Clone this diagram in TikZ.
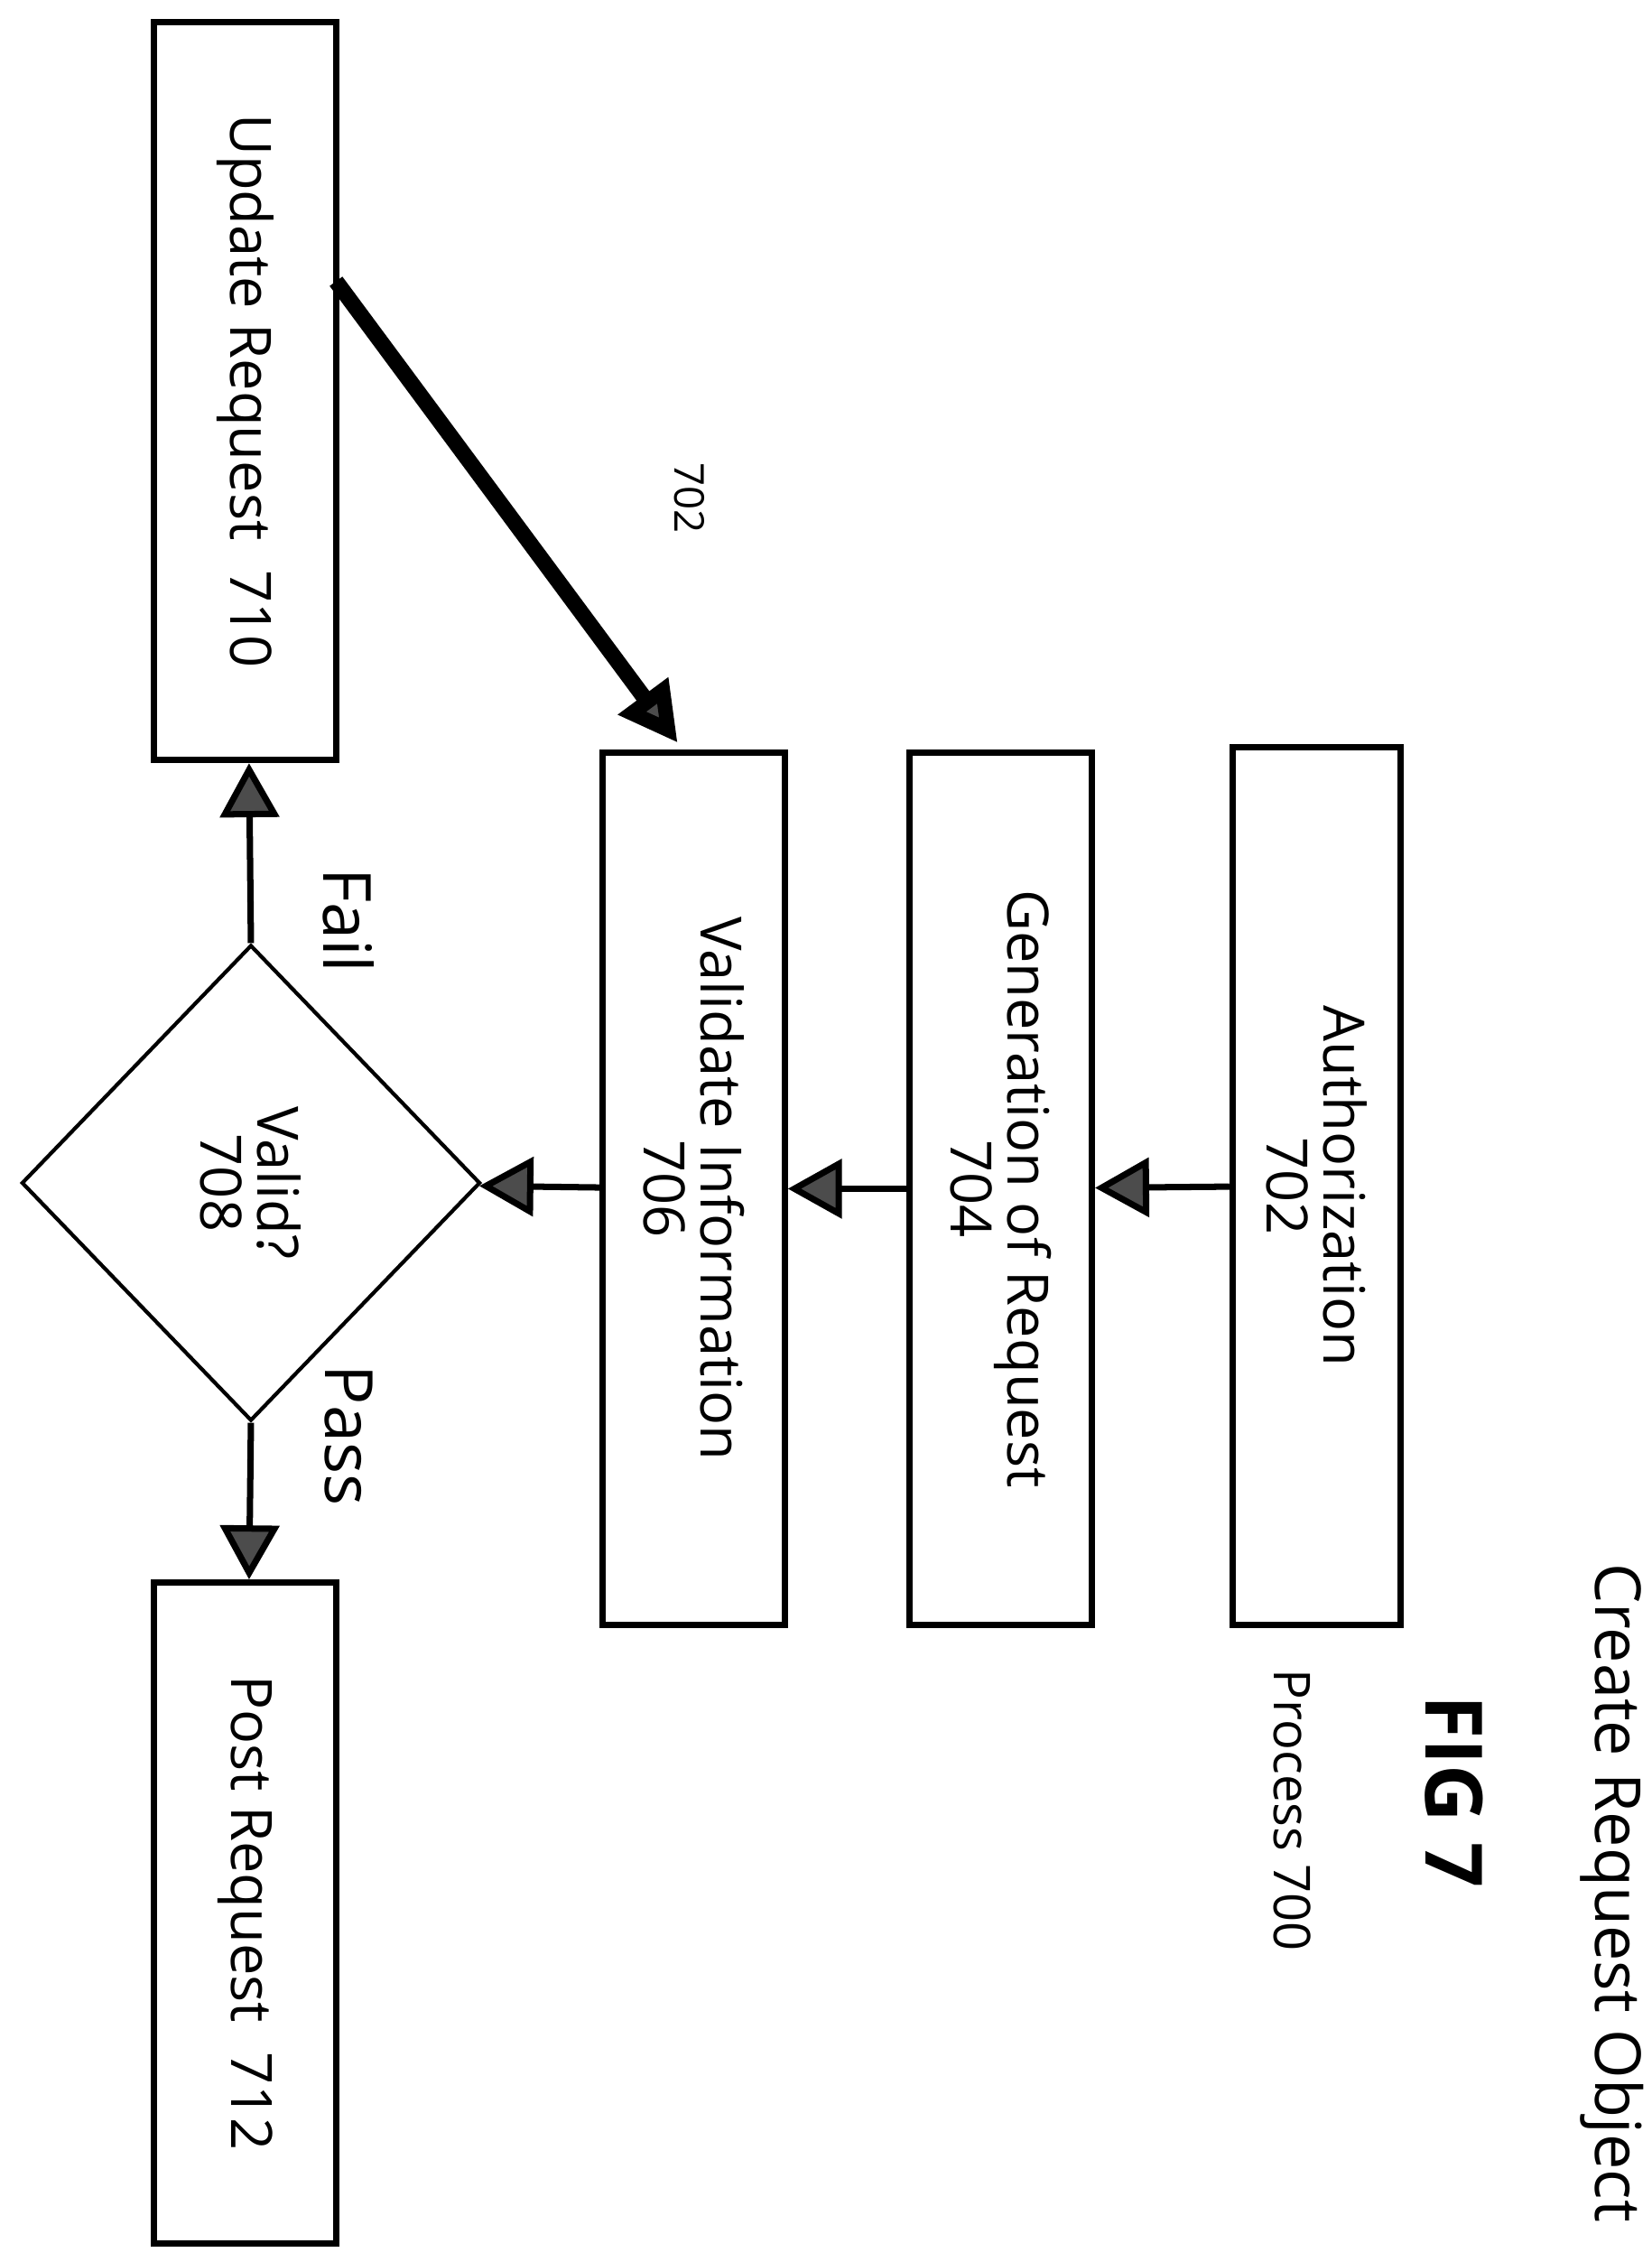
\documentclass[tikz,border=0pt]{standalone}
\usepackage{fontspec}
\setmainfont{Open Sans}
\usetikzlibrary{shapes.geometric,arrows.meta}
\begin{document}
\begin{tikzpicture}[
    x=0.016cm, y=-0.016cm,
    stage/.style={rectangle, draw=black, line width=2pt, rotate=-90, align=center, font=\fontsize{18}{22}\selectfont, inner sep=0pt},
    test/.style={diamond, draw=black, line width=1.2pt, rotate=-90, align=center, font=\fontsize{18}{22}\selectfont, minimum width=5.28cm, minimum height=5.09cm, inner sep=0pt},
    flow/.style={line width=2pt, -{Triangle[length=0.6cm, width=0.65cm, fill=black!70]}},
    tag/.style={rotate=-90, font=\fontsize{21}{25}\selectfont}
]
\useasboundingbox (0,0) rectangle (1145,1568);

\node[stage, minimum width=8.19cm, minimum height=2.02cm] (update) at (170,271) {Update Request~~710};
\node[stage, minimum width=9.68cm, minimum height=2.02cm] (validate) at (481,824) {Validate Information\\[-4pt]706};
\node[stage, minimum width=9.68cm, minimum height=2.02cm] (generate) at (694,824) {Generation of Request\\[-4pt]704};
\node[stage, minimum width=9.74cm, minimum height=1.87cm] (auth) at (913,822) {Authorization\\[-4pt]702};
\node[test] (valid) at (174,820) {Valid?\\[-4pt]708};
\node[stage, minimum width=7.33cm, minimum height=2.02cm] (post) at (170,1326) {Post Request~~712};

\draw[flow] (auth) -- (generate);
\draw[flow] (generate) -- (validate);
\draw[flow] (validate) -- (valid);
\draw[flow] (valid.west) -- (update);
\draw[flow] (valid.east) -- (post);
\coordinate (start) at (233,195);
\coordinate (target) at (470,515);
\draw[line width=5pt, -{Triangle[length=0.65cm, width=0.65cm, fill=black!70]}] (start) -- (target);

\node[tag] (fail) at (242,638) {Fail};
\node[tag] (pass) at (242,995) {Pass};
\node[tag, font=\fontsize{13}{15}\selectfont] (ref) at (478,345) {702};

\node[tag, font=\fontsize{20}{24}\selectfont] (title) at (1118,1312) {Create Request Object};
\node[tag, font=\fontsize{25}{30}\selectfont\bfseries] (fig) at (1008,1242) {FIG 7};
\node[tag, font=\fontsize{16}{19}\selectfont] (proc) at (896,1255) {Process 700};
\end{tikzpicture}
\end{document}
